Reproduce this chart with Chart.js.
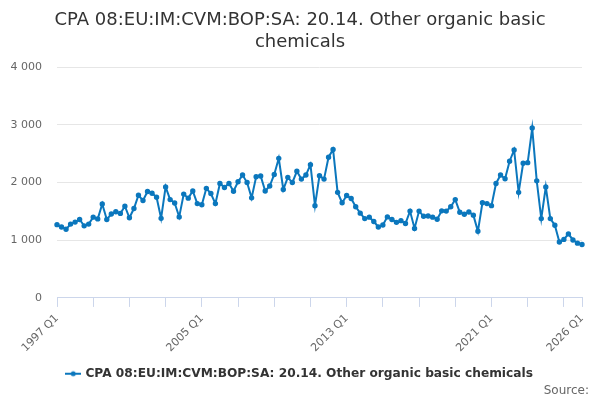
<!DOCTYPE html>
<html>
<head>
<meta charset="utf-8">
<script src="https://cdn.jsdelivr.net/npm/chart.js@4"></script>
<style>
  body { margin: 0; background: #fff; }
  #wrap { width: 600px; height: 400px; }
</style>
</head>
<body>
<div id="wrap"><canvas id="myChart"></canvas></div>
<script>
const firstYear = 1997;
const lastYear = 2026;
const quarters = ['Q1', 'Q2', 'Q3', 'Q4'];
const labels = [];
for (let y = firstYear; y <= lastYear; y++) {
    for (const q of quarters) {
        labels.push(y + ' ' + q);
        if (y === lastYear) break;
    }
}

const values = [
    1270, 1230, 1190, 1280, 1315, 1360, 1250, 1280, 1400, 1370, 1630, 1360,
    1455, 1495, 1465, 1590, 1390, 1550, 1780, 1690, 1845, 1815, 1745, 1380,
    1925, 1705, 1645, 1405, 1800, 1730, 1855, 1635, 1615, 1900, 1810, 1635,
    1985, 1915, 1985, 1850, 2015, 2130, 2000, 1735, 2100, 2115, 1855, 1940,
    2140, 2420, 1880, 2090, 2000, 2195, 2060, 2130, 2310, 1600, 2120, 2060,
    2440, 2575, 1830, 1650, 1775, 1725, 1580, 1470, 1375, 1400, 1325, 1230,
    1265, 1405, 1360, 1310, 1340, 1290, 1505, 1205, 1505, 1415, 1420, 1400,
    1365, 1510, 1505, 1580, 1705, 1485, 1450, 1490, 1435, 1155, 1650, 1635,
    1600, 1985, 2130, 2065, 2370, 2565, 1830, 2335, 2345, 2945, 2030, 1375,
    1925, 1375, 1260, 970, 1015, 1110, 1005, 950, 925
];

const labelTicks = ['1997 Q1', '2005 Q1', '2013 Q1', '2021 Q1', '2026 Q1'];
const seriesName = 'CPA 08:EU:IM:CVM:BOP:SA: 20.14. Other organic basic chemicals';
const titleLines = ['CPA 08:EU:IM:CVM:BOP:SA: 20.14. Other organic basic', 'chemicals'];
const lineColor = '#0b77bd';

// legend symbol: short line with a dot, like the original
const sym = document.createElement('canvas');
sym.width = 16; sym.height = 8;
const sctx = sym.getContext('2d');
sctx.strokeStyle = lineColor;
sctx.lineWidth = 2;
sctx.beginPath(); sctx.moveTo(0, 4); sctx.lineTo(16, 4); sctx.stroke();
sctx.fillStyle = lineColor;
sctx.beginPath(); sctx.arc(8, 4, 2.5, 0, Math.PI * 2); sctx.fill();

Chart.defaults.font.family = '"DejaVu Sans", sans-serif';
Chart.defaults.color = '#666666';

const ctx = document.getElementById('myChart').getContext('2d');
const chart = new Chart(ctx, {
    type: 'line',
    data: {
        labels: labels,
        datasets: [{
            label: seriesName,
            data: values,
            borderColor: lineColor,
            backgroundColor: lineColor,
            borderWidth: 2,
            pointRadius: 1.7,
            pointHoverRadius: 3,
            tension: 0
        }]
    },
    options: {
        responsive: true,
        maintainAspectRatio: false,
        animation: false,
        layout: { padding: { left: 11, right: 11, top: 6, bottom: 3 } },
        scales: {
            x: {
                afterBuildTicks: (axis) => {
                    const last = labels.length - 1;
                    axis.ticks = axis.ticks.filter(t => t.value % 8 === 0 || t.value === last);
                },
                ticks: {
                    autoSkip: false,
                    maxRotation: 45,
                    minRotation: 45,
                    font: { size: 11 },
                    color: '#666666',
                    padding: 5,
                    callback: function (val) {
                        const l = this.getLabelForValue(val);
                        return labelTicks.includes(l) ? l : '';
                    }
                },
                grid: {
                    drawOnChartArea: false,
                    drawTicks: true,
                    tickLength: 9,
                    color: '#ccd6eb'
                },
                border: { color: '#ccd6eb', width: 1 }
            },
            y: {
                min: 0,
                max: 4000,
                afterFit: (scale) => { scale.width = 46; },
                ticks: {
                    stepSize: 1000,
                    font: { size: 11 },
                    color: '#666666',
                    padding: 15,
                    callback: (v) => String(v).replace(/\B(?=(\d{3})+(?!\d))/g, ' ')
                },
                grid: { color: '#e6e6e6', drawTicks: false },
                border: { display: false }
            },
            // empty spacer on the right so the plot ends short of the source text
            yRight: {
                position: 'right',
                afterFit: (scale) => { scale.width = 7; },
                ticks: { display: false },
                grid: { display: false },
                border: { display: false }
            }
        },
        plugins: {
            title: {
                display: true,
                text: titleLines,
                color: '#333333',
                font: { size: 18, weight: 'normal' },
                padding: { top: 4, bottom: 14 }
            },
            subtitle: {
                display: true,
                text: 'Source:',
                position: 'bottom',
                align: 'end',
                color: '#666666',
                font: { size: 12, weight: 'normal', lineHeight: 1.1 },
                padding: { top: -6, bottom: 0 }
            },
            legend: {
                position: 'bottom',
                labels: {
                    usePointStyle: true,
                    pointStyle: sym,
                    color: '#333333',
                    font: { size: 12.2, weight: 'bold' },
                    padding: 8
                }
            },
            tooltip: { enabled: false }
        }
    }
});
</script>
</body>
</html>
